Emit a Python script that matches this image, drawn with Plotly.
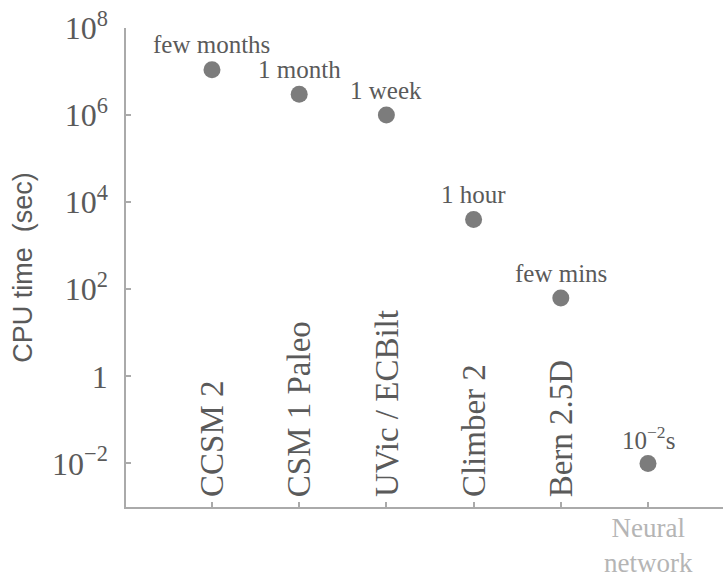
import plotly.graph_objects as go
import math

# Data
models = ["CCSM 2", "CSM 1 Paleo", "UVic / ECBilt", "Climber 2", "Bern 2.5D", "Neural network"]
cpu_time_sec = [1.1e7, 3.0e6, 1.0e6, 4.0e3, 63, 0.01]
time_labels = ["few months", "1 month", "1 week", "1 hour", "few mins", "10<sup>−2</sup>s"]
ytick_vals = [1e-2, 1, 1e2, 1e4, 1e6, 1e8]
ytick_text = ["10<sup>−2</sup>", "1", "10<sup>2</sup>", "10<sup>4</sup>", "10<sup>6</sup>", "10<sup>8</sup>"]

serif = "Liberation Serif, Times New Roman, serif"
txt_col = "#5a5a5a"
axis_col = "#aaaaaa"

xs = list(range(len(models)))
x_range = [-0.986, 5.86]

fig = go.Figure()
fig.add_trace(go.Scatter(
    x=xs, y=cpu_time_sec, mode="markers",
    marker=dict(size=17, color="#7c7c7c", line=dict(width=0)),
    hoverinfo="skip", showlegend=False,
))

annotations = []
# value labels above points
for x, y, t in zip(xs, cpu_time_sec, time_labels):
    annotations.append(dict(
        x=x, y=math.log10(y), xref="x", yref="y", text=t, showarrow=False,
        xanchor="center", yanchor="middle", yshift=25,
        font=dict(family=serif, size=25, color=txt_col),
    ))
# model labels: vertical inside plot, except the last one below axis
for x, m in zip(xs[:-1], models[:-1]):
    annotations.append(dict(
        x=x, y=0, xref="x", yref="paper", text=m, showarrow=False,
        textangle=-90, xanchor="center", yanchor="bottom", yshift=8,
        font=dict(family=serif, size=33, color=txt_col),
    ))
annotations.append(dict(
    x=xs[-1], y=0, xref="x", yref="paper", text=models[-1].replace(" ", "<br>"),
    showarrow=False, xanchor="center", yanchor="top", yshift=-4,
    font=dict(family=serif, size=27, color="#b5b5b5"),
))

common_x = dict(
    range=x_range, tickvals=xs, showticklabels=False,
    ticks="inside", ticklen=5, tickcolor=axis_col, tickwidth=1.5,
    showline=True, linecolor=axis_col, linewidth=1.5, mirror=False,
    showgrid=False, zeroline=False, automargin=False, showspikes=False,
)

fig.update_layout(
    width=723, height=580,
    margin=dict(l=126, r=0, t=28, b=73),
    paper_bgcolor="white", plot_bgcolor="white",
    annotations=annotations,
    xaxis=dict(**common_x),
    xaxis2=dict(**common_x, overlaying="x", side="top", anchor="y"),
    yaxis=dict(
        type="log", range=[-3, 8], tickvals=ytick_vals, ticktext=ytick_text,
        ticks="inside", ticklen=5, tickcolor=axis_col, tickwidth=1.5,
        showline=True, linecolor=axis_col, linewidth=1.5, mirror=False,
        showgrid=False, zeroline=False, automargin=False, showspikes=False,
        tickfont=dict(family=serif, size=32, color=txt_col),
        ticklabelstandoff=10,
        title=dict(text="CPU time  (sec)", standoff=12,
                   font=dict(family="Liberation Sans, Arial, sans-serif", size=27, color=txt_col)),
    ),
)

fig.write_html(
    "out.html",
    config={"displayModeBar": False},
    post_script="document.body.style.margin='0';document.body.style.overflow='hidden';",
)
